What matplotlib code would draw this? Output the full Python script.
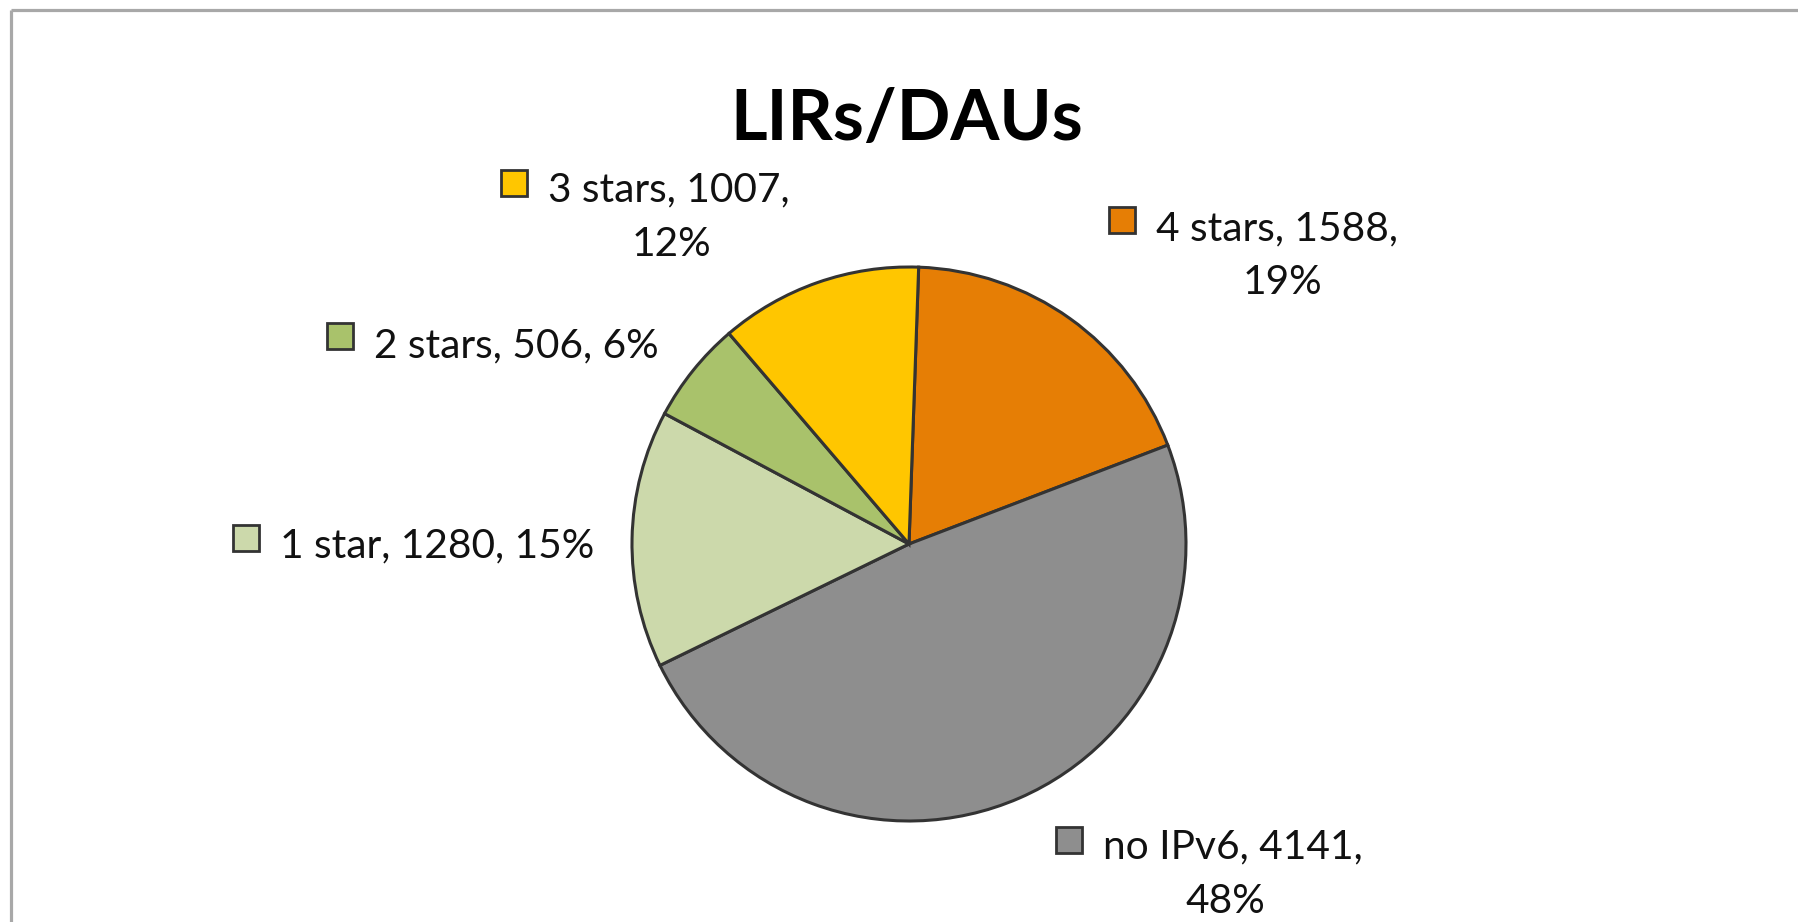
import matplotlib
matplotlib.use('Agg')
import matplotlib.pyplot as plt
import numpy as np

# ---- data ----
categories = ['4 stars', 'no IPv6', '1 star', '2 stars', '3 stars']
values = [1588, 4141, 1280, 506, 1007]
percents = [19, 48, 15, 6, 12]
colors = ['#E67E05', '#8E8E8E', '#CCD9AB', '#A9C26B', '#FFC600']
title = 'LIRs/DAUs'

# ---- layout (pixel coords, y measured from top) ----
W, H = 1798, 922
FONT = 'Lato'
fig = plt.figure(figsize=(W / 100, H / 100), dpi=100)
ax = fig.add_axes([0, 0, 1, 1])


def Y(y):
    return H - y


CX, CY, R = 909, 544, 277
ax.pie(values, colors=colors, startangle=88, counterclock=False,
       center=(CX, Y(CY)), radius=R,
       wedgeprops=dict(edgecolor='#333333', linewidth=2.2), frame=False)
ax.set_xlim(0, W)
ax.set_ylim(0, H)
ax.set_aspect('auto')
ax.axis('off')

# frame (top and left edges visible)
ax.plot([11, W + 10], [Y(10), Y(10)], color='#A8A8A8', lw=2.3, clip_on=False,
        solid_capstyle='butt')
ax.plot([11, 11], [Y(10), -10], color='#A8A8A8', lw=2.3, clip_on=False,
        solid_capstyle='butt')

renderer = fig.canvas.get_renderer()

# title, fitted to the reference width
tt = ax.text(907, Y(140), title, ha='center', va='baseline', fontsize=52,
             fontweight='bold', family=FONT, color='#000000')
w = tt.get_window_extent(renderer).width
tt.set_fontsize(52 * 354 / w)

# label layout: marker x, marker y, baseline 1, target width 1, line2 center x, baseline 2
label_layout = [
    (1122, 220, 240, 248, 1282, 294),
    (1069, 840, 858, 247, 1225, 913),
    (246, 538, 557, 315, None, None),
    (340, 336, 357, 288, None, None),
    (514, 183, 201, 244, 671, 256),
]

base_fs = 27
line1_texts = []
line2_texts = []
ratios = []
for i, (cat, val, pct, col) in enumerate(zip(categories, values, percents, colors)):
    mx, my, b1, tw, cx2, b2 = label_layout[i]
    ax.plot([mx], [Y(my)], marker='s', ms=18.5, mfc=col, mec='#333333', mew=2.0,
            linestyle='none', clip_on=False)
    if cx2 is None:
        s1 = f'{cat}, {val}, {pct}%'
    else:
        s1 = f'{cat}, {val},'
    t1 = ax.text(mx + 34, Y(b1), s1, ha='left', va='baseline', fontsize=base_fs,
                 family=FONT, color='#111111')
    line1_texts.append(t1)
    ratios.append(tw / t1.get_window_extent(renderer).width)
    if cx2 is not None:
        t2 = ax.text(cx2, Y(b2), f'{pct}%', ha='center', va='baseline',
                     fontsize=base_fs, family=FONT, color='#111111')
        line2_texts.append(t2)

fs = base_fs * float(np.mean(ratios))
for t in line1_texts + line2_texts:
    t.set_fontsize(fs)

fig.savefig('out.png', dpi=100, facecolor='white')
